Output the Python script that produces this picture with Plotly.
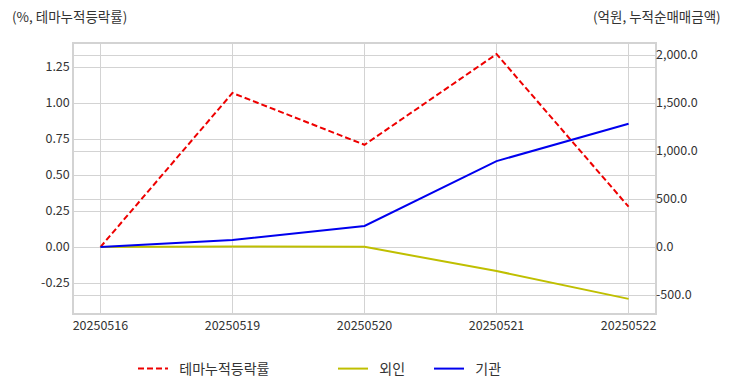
import plotly.graph_objects as go

dates = ["20250516", "20250519", "20250520", "20250521", "20250522"]
theme_rate = [0.0, 1.07, 0.71, 1.34, 0.28]
foreign = [0.0, 5.0, 2.0, -250.0, -540.0]
institution = [0.0, 73.0, 220.0, 895.0, 1285.0]

left_ticks = [-0.25, 0.0, 0.25, 0.5, 0.75, 1.0, 1.25]
right_ticks = [-500, 0, 500, 1000, 1500, 2000]

FONT = "Noto Sans CJK KR"
GRID = "#d3d3d3"
TXT = "#333333"
OFF = 8  # page body margin
PW, PH, ML, MT = 581, 269, 74 - OFF, 44 - OFF
NB = "\u00a0\u00a0"

def px_x(p):  # p in screen pixels
    return (p - OFF - ML) / PW

def px_y(p):
    return (MT + PH - (p - OFF)) / PH

fig = go.Figure()
xs = list(range(len(dates)))
fig.add_trace(go.Scatter(x=xs, y=theme_rate, name=NB + "테마누적등락률",
                         mode="lines", line=dict(color="#ee0000", dash="6px,3px", width=2),
                         yaxis="y", legend="legend"))
fig.add_trace(go.Scatter(x=xs, y=foreign, name=NB + "외인",
                         mode="lines", line=dict(color="#bfbf00", width=2), yaxis="y2",
                         legend="legend2"))
fig.add_trace(go.Scatter(x=xs, y=institution, name=NB + "기관",
                         mode="lines", line=dict(color="#0000ee", width=2), yaxis="y2",
                         legend="legend3"))

leg_common = dict(orientation="h", yanchor="middle", xanchor="left",
                  font=dict(size=14, color=TXT, family=FONT), bgcolor="rgba(0,0,0,0)")

fig.update_layout(
    width=732, height=392,
    margin=dict(l=ML, r=732 - ML - PW, t=MT, b=392 - MT - PH, autoexpand=False),
    paper_bgcolor="white", plot_bgcolor="white",
    font=dict(family=FONT, size=12, color=TXT),
    showlegend=True,
    legend=dict(x=px_x(133), y=px_y(369), **leg_common),
    legend2=dict(x=px_x(333), y=px_y(369), **leg_common),
    legend3=dict(x=px_x(429), y=px_y(369), **leg_common),
    xaxis=dict(tickmode="array", tickvals=xs, ticktext=dates,
               range=[-0.2, 4.2], showgrid=True, gridcolor=GRID, zeroline=False,
               showline=True, linecolor=GRID, linewidth=1.5, mirror=True,
               ticks="", tickfont=dict(size=12.5, color=TXT)),
    yaxis=dict(range=[-0.458, 1.41], tickvals=left_ticks,
               ticktext=[f"{v:.2f}" for v in left_ticks],
               showgrid=True, gridcolor=GRID, zeroline=False,
               showline=True, linecolor=GRID, linewidth=1.5, mirror=True,
               ticks="", tickfont=dict(size=12.5, color=TXT)),
    yaxis2=dict(range=[-687, 2115], tickvals=right_ticks,
                ticktext=[f"{v:,.1f}" for v in right_ticks],
                overlaying="y", side="right", showgrid=True, gridcolor=GRID,
                zeroline=False, ticks="", tickfont=dict(size=12.5, color=TXT)),
    annotations=[
        dict(text="(%, 테마누적등락률)", xref="paper", yref="paper",
             x=px_x(10), y=px_y(16), xanchor="left", yanchor="middle",
             showarrow=False, font=dict(size=13.5, color=TXT)),
        dict(text="(억원, 누적순매매금액)", xref="paper", yref="paper",
             x=px_x(723), y=px_y(16), xanchor="right", yanchor="middle",
             showarrow=False, font=dict(size=13.5, color=TXT)),
    ],
)

fig.write_html("out.html")
